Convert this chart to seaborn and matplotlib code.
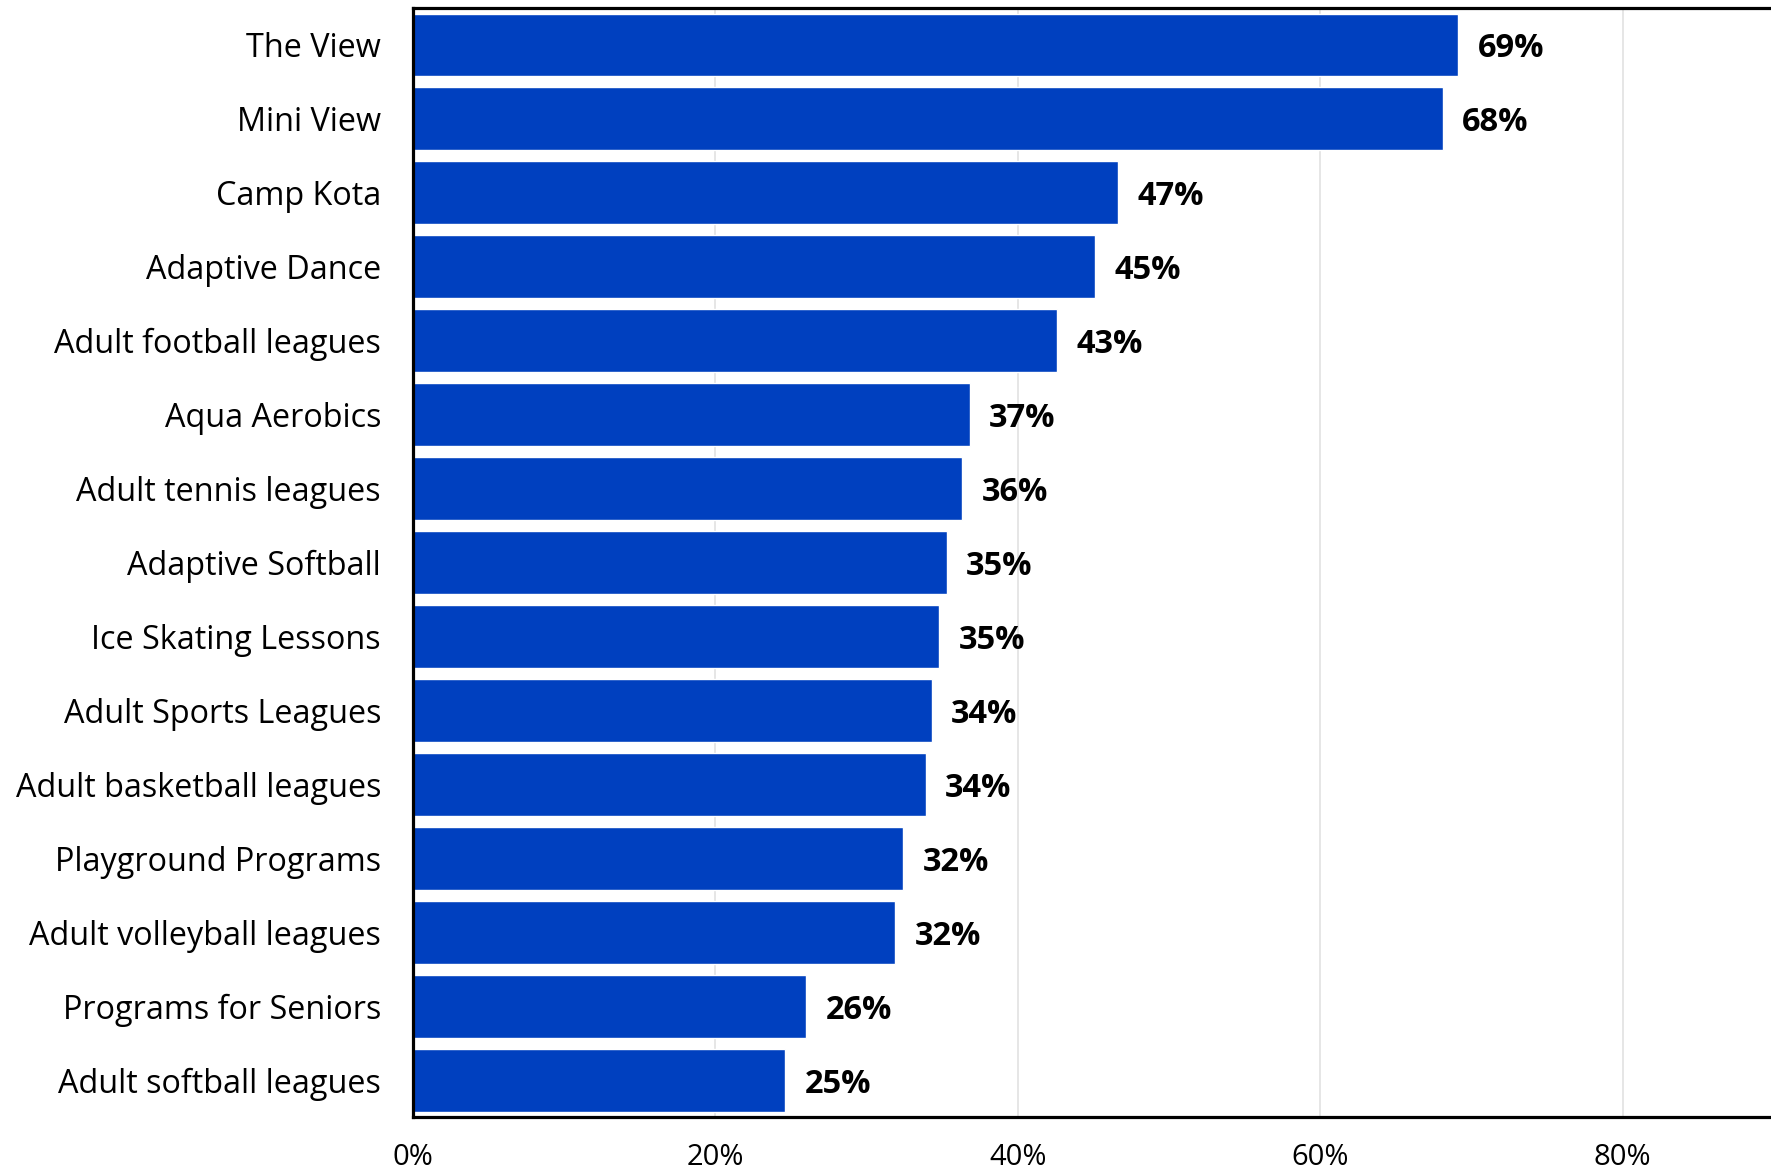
import matplotlib
matplotlib.use("Agg")
import matplotlib.pyplot as plt
import seaborn as sns
import pandas as pd

# Participation share by program (percent)
programs = [
    "The View", "Mini View", "Camp Kota", "Adaptive Dance",
    "Adult football leagues", "Aqua Aerobics", "Adult tennis leagues",
    "Adaptive Softball", "Ice Skating Lessons", "Adult Sports Leagues",
    "Adult basketball leagues", "Playground Programs",
    "Adult volleyball leagues", "Programs for Seniors", "Adult softball leagues",
]
shares = [69.1, 68.1, 46.6, 45.1, 42.6, 36.8, 36.3, 35.3, 34.8, 34.3,
          33.9, 32.4, 31.9, 26.0, 24.6]
x_ticks = [0, 20, 40, 60, 80]

BAR_COLOR = "#0040BF"

sns.set_theme(style="white")
plt.rcParams["font.family"] = ["Open Sans", "DejaVu Sans"]

df = pd.DataFrame({"program": programs, "share": shares})

fig = plt.figure(figsize=(17.71, 11.73), dpi=100)
ax = fig.add_axes([0.2332, 0.0477, 0.7685, 0.9455])

ax.grid(axis="x", color="#e4e4e4", linewidth=1.3, zorder=0)
ax.set_axisbelow(True)

sns.barplot(data=df, x="share", y="program", orient="h", color=BAR_COLOR,
            saturation=1, width=0.85, ax=ax, zorder=2)

ax.set_xlim(0, 90)
ax.set_ylim(len(programs) - 0.5, -0.5)
ax.set_xticks(x_ticks)
ax.set_xticklabels([f"{t}%" for t in x_ticks])
ax.set_xlabel("")
ax.set_ylabel("")

ax.tick_params(axis="y", length=0, pad=23, labelsize=23.3, labelcolor="black")
ax.tick_params(axis="x", length=0, pad=19, labelsize=21, labelcolor="black")
for lbl in ax.get_yticklabels():
    lbl.set_verticalalignment("center_baseline")

for side in ("left", "top", "bottom"):
    ax.spines[side].set_visible(True)
    ax.spines[side].set_color("black")
    ax.spines[side].set_linewidth(2.3)
ax.spines["right"].set_visible(False)

for bar, val in zip(ax.patches, shares):
    ax.annotate(f"{round(val):d}%",
                xy=(bar.get_width(), bar.get_y() + bar.get_height() / 2),
                xytext=(14, 0), textcoords="offset points",
                ha="left", va="center_baseline", fontsize=23.5,
                fontweight="bold", color="black")

fig.savefig("out.png", dpi=100)
